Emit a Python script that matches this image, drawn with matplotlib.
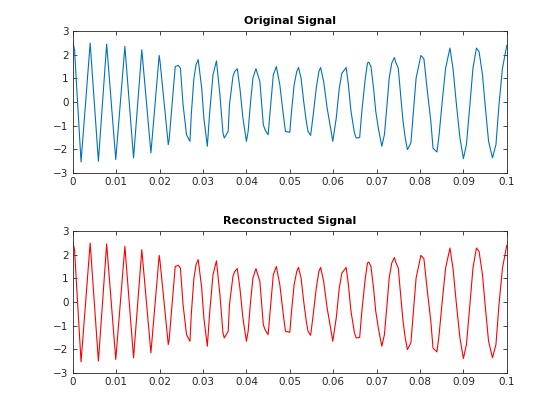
import numpy as np
import matplotlib
matplotlib.use('Agg')
import matplotlib.pyplot as plt

# Signal (peaks, troughs and points on the flanks)
t = [0.0000, 0.0004, 0.0019, 0.0040, 0.0059, 0.0078, 0.0099, 0.0120,
     0.0140, 0.0159, 0.0180, 0.0199, 0.0201, 0.0220, 0.0222, 0.0236,
     0.0243, 0.0248, 0.0254, 0.0262, 0.0270, 0.0273, 0.0279, 0.0284,
     0.0289, 0.0297, 0.0302, 0.0310, 0.0315, 0.0323, 0.0331, 0.0339,
     0.0346, 0.0349, 0.0358, 0.0361, 0.0369, 0.0373, 0.0379, 0.0385,
     0.0392, 0.0400, 0.0404, 0.0409, 0.0415, 0.0422, 0.0431, 0.0439,
     0.0443, 0.0450, 0.0454, 0.0462, 0.0469, 0.0477, 0.0485, 0.0490,
     0.0500, 0.0504, 0.0510, 0.0516, 0.0520, 0.0526, 0.0532, 0.0538,
     0.0542, 0.0548, 0.0553, 0.0561, 0.0567, 0.0571, 0.0578, 0.0586,
     0.0594, 0.0599, 0.0607, 0.0614, 0.0620, 0.0630, 0.0635, 0.0641,
     0.0649, 0.0653, 0.0661, 0.0666, 0.0674, 0.0679, 0.0682, 0.0687,
     0.0693, 0.0698, 0.0704, 0.0712, 0.0718, 0.0724, 0.0729, 0.0735,
     0.0741, 0.0744, 0.0750, 0.0756, 0.0761, 0.0766, 0.0771,
     0.0779, 0.0786, 0.0791, 0.0802, 0.0809, 0.0817, 0.0825, 0.0830,
     0.0839, 0.0844, 0.0852, 0.0859, 0.0869, 0.0876, 0.0884, 0.0892,
     0.0900, 0.0907, 0.0915, 0.0922, 0.0930, 0.0936, 0.0944, 0.0950,
     0.0958, 0.0967, 0.0975, 0.0982, 0.0990, 0.1000]
x = [2.55, 2.20, -2.53, 2.49, -2.50, 2.45, -2.43, 2.35,
     -2.36, 2.21, -2.15, 1.97, 1.72, -1.80, -1.59, 1.50,
     1.55, 1.43, -0.10, -1.38, -1.66, -0.53, 1.00, 1.58,
     1.79, 0.59, -0.68, -1.87, -0.53, 1.15, 1.74, 0.31,
     -1.31, -1.52, -1.24, -0.11, 1.08, 1.29, 1.41, 0.59,
     -0.68, -1.66, -1.24, -0.11, 1.01, 1.41, 0.87, -0.96,
     -1.17, -1.38, -0.53, 1.15, 1.50, 0.73, -0.53, -1.24,
     -1.28, -0.39, 0.73, 1.29, 1.46, 1.01, 0.03, -0.82,
     -1.24, -1.41, -0.68, 0.59, 1.29, 1.46, 0.87, -0.25,
     -1.10, -1.66, -0.68, 0.59, 1.22, 1.46, 0.73, -0.39,
     -1.31, -1.52, -1.50, -0.39, 1.01, 1.65, 1.69, 1.50,
     0.59, -0.39, -1.10, -1.87, -1.38, -0.11, 1.01, 1.65,
     1.88, 1.69, 1.43, 0.17, -0.82, -1.52, -2.01,
     -1.73, -0.11, 1.01, 1.97, 1.83, 0.45, -0.82, -1.95,
     -2.11, -1.38, 0.17, 1.43, 2.28, 1.43, -0.11, -1.52,
     -2.39, -1.80, -0.11, 1.43, 2.28, 2.14, 1.15, -0.11,
     -1.66, -2.36, -1.80, -0.11, 1.43, 2.40]

titles = ['Original Signal', 'Reconstructed Signal']
colors = ['#0072BD', 'red']
xticks = np.arange(0, 0.101, 0.01)
xticklabels = ['0', '0.01', '0.02', '0.03', '0.04', '0.05', '0.06', '0.07', '0.08', '0.09', '0.1']
yticks = [-3, -2, -1, 0, 1, 2, 3]

fig = plt.figure(figsize=(5.6, 4.2), dpi=100)
axc = '#262626'
positions = [[0.130, 0.588, 0.775, 0.338], [0.130, 0.112, 0.775, 0.338]]

for i in range(2):
	ax = fig.add_axes(positions[i])
	ax.plot(t, x, color=colors[i], linewidth=0.8)
	ax.set_xlim(0, 0.1)
	ax.set_ylim(-3, 3)
	ax.set_xticks(xticks)
	ax.set_xticklabels(xticklabels)
	ax.set_yticks(yticks)
	ax.tick_params(direction='in', top=True, right=True, length=3, width=0.6,
		labelsize=7.5, colors=axc, pad=3)
	for s in ax.spines.values():
		s.set_color(axc)
		s.set_linewidth(0.6)
	ax.set_title(titles[i], fontsize=8, fontweight='bold', color='black', pad=5)

fig.savefig('out.png', dpi=100)
